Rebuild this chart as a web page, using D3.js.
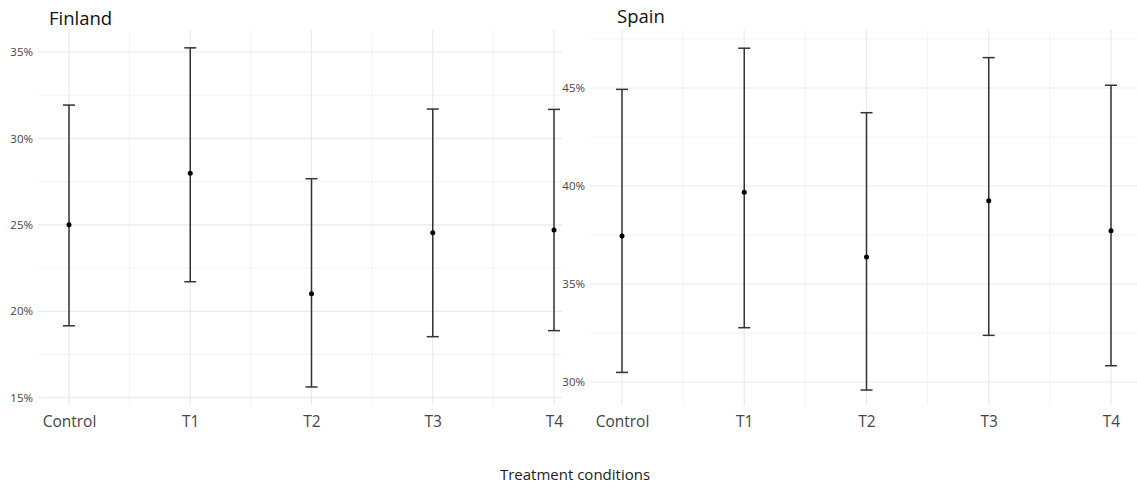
<!DOCTYPE html>
<html>
<head>
<meta charset="utf-8">
<script src="https://cdn.jsdelivr.net/npm/d3@7"></script>
<style>
  body { margin: 0; background: #fff; }
  svg { display: block; font-family: "Open Sans", "Noto Sans", sans-serif; }
</style>
</head>
<body>
<div id="chart"></div>
<script>
// categories on the x axis
const categories = ["Control", "T1", "T2", "T3", "T4"]

// Finland: point estimate and interval, in percent
const finlandMean = [25.0, 27.98, 21.02, 24.54, 24.7]
const finlandLow = [19.16, 21.71, 15.62, 18.53, 18.88]
const finlandHigh = [31.93, 35.24, 27.67, 31.7, 31.68]

// Spain: point estimate and interval, in percent
const spainMean = [37.45, 39.68, 36.38, 39.25, 37.72]
const spainLow = [30.49, 32.77, 29.59, 32.38, 30.83]
const spainHigh = [44.93, 47.03, 43.74, 46.55, 45.14]

const finlandTicks = [15, 20, 25, 30, 35]
const spainTicks = [30, 35, 40, 45]

const width = 1137
const height = 486

const svg = d3.select("#chart")
    .append("svg")
    .attr("width", width)
    .attr("height", height)
    .attr("viewBox", [0, 0, width, height])

const panels = [
    {
        title: "Finland", mean: finlandMean, low: finlandLow, high: finlandHigh,
        ticks: finlandTicks, yDomain: [15, 35], yRange: [397.7, 52],
        xRange: [69, 554], left: 38, right: 562, titleX: 49, titleY: 25
    },
    {
        title: "Spain", mean: spainMean, low: spainLow, high: spainHigh,
        ticks: spainTicks, yDomain: [30, 45], yRange: [382, 88],
        xRange: [622, 1111], left: 590, right: 1137, titleX: 617, titleY: 23
    }
]

const panelTop = 30
const panelBottom = 405
const capHalf = 6

panels.forEach(p => {
    const x = d3.scalePoint(categories, p.xRange)
    const y = d3.scaleLinear(p.yDomain, p.yRange)

    const g = svg.append("g")

    // minor grid: half steps between majors
    const [y0, y1] = [y.invert(panelBottom), y.invert(panelTop)]
    const minorY = d3.range(Math.ceil(y0 / 2.5) * 2.5, y1, 2.5).filter(v => v % 5 !== 0)
    g.append("g").selectAll("line")
        .data(minorY)
        .join("line")
        .attr("x1", p.left).attr("x2", p.right)
        .attr("y1", d => y(d)).attr("y2", d => y(d))
        .attr("stroke", "#f3f3f3").attr("stroke-width", 1)

    const minorX = d3.pairs(categories).map(([a, b]) => (x(a) + x(b)) / 2)
    g.append("g").selectAll("line")
        .data(minorX)
        .join("line")
        .attr("x1", d => d).attr("x2", d => d)
        .attr("y1", panelTop).attr("y2", panelBottom)
        .attr("stroke", "#f3f3f3").attr("stroke-width", 1)

    // major grid
    g.append("g").selectAll("line")
        .data(p.ticks)
        .join("line")
        .attr("x1", p.left).attr("x2", p.right)
        .attr("y1", d => y(d)).attr("y2", d => y(d))
        .attr("stroke", "#eaeaea").attr("stroke-width", 1.2)

    g.append("g").selectAll("line")
        .data(categories)
        .join("line")
        .attr("x1", d => x(d)).attr("x2", d => x(d))
        .attr("y1", panelTop).attr("y2", panelBottom)
        .attr("stroke", "#eaeaea").attr("stroke-width", 1.2)

    // y axis labels
    g.append("g")
        .attr("transform", `translate(${p.left - 2},0)`)
        .call(d3.axisLeft(y).tickValues(p.ticks).tickSize(0).tickFormat(d => d + "%"))
        .call(a => a.select(".domain").remove())
        .call(a => a.selectAll("text")
            .attr("font-family", "\"Open Sans\", sans-serif")
            .attr("font-size", 11.5)
            .attr("fill", "#444"))

    // x axis labels
    g.append("g")
        .attr("transform", `translate(0,${panelBottom + 8})`)
        .call(d3.axisBottom(x).tickSize(0))
        .call(a => a.select(".domain").remove())
        .call(a => a.selectAll("text")
            .attr("font-family", "\"Open Sans\", sans-serif")
            .attr("font-size", 15.5)
            .attr("fill", "#444"))

    // error bars
    const bars = g.append("g")
        .attr("stroke", "#333")
        .attr("stroke-width", 1.5)
        .attr("fill", "none")

    bars.selectAll(".stem")
        .data(categories)
        .join("line")
        .attr("class", "stem")
        .attr("x1", d => x(d)).attr("x2", d => x(d))
        .attr("y1", (d, i) => y(p.low[i])).attr("y2", (d, i) => y(p.high[i]))

    bars.selectAll(".capTop")
        .data(categories)
        .join("line")
        .attr("class", "capTop")
        .attr("x1", d => x(d) - capHalf).attr("x2", d => x(d) + capHalf)
        .attr("y1", (d, i) => y(p.high[i])).attr("y2", (d, i) => y(p.high[i]))

    bars.selectAll(".capBottom")
        .data(categories)
        .join("line")
        .attr("class", "capBottom")
        .attr("x1", d => x(d) - capHalf).attr("x2", d => x(d) + capHalf)
        .attr("y1", (d, i) => y(p.low[i])).attr("y2", (d, i) => y(p.low[i]))

    g.append("g").selectAll("circle")
        .data(categories)
        .join("circle")
        .attr("cx", d => x(d))
        .attr("cy", (d, i) => y(p.mean[i]))
        .attr("r", 2.5)
        .attr("fill", "#000")

    // panel title
    g.append("text")
        .attr("x", p.titleX)
        .attr("y", p.titleY)
        .attr("font-size", 18.5)
        .attr("fill", "#111")
        .text(p.title)
})

svg.append("text")
    .attr("x", 575)
    .attr("y", 480)
    .attr("text-anchor", "middle")
    .attr("font-size", 15)
    .attr("fill", "#222")
    .text("Treatment conditions")
</script>
</body>
</html>
